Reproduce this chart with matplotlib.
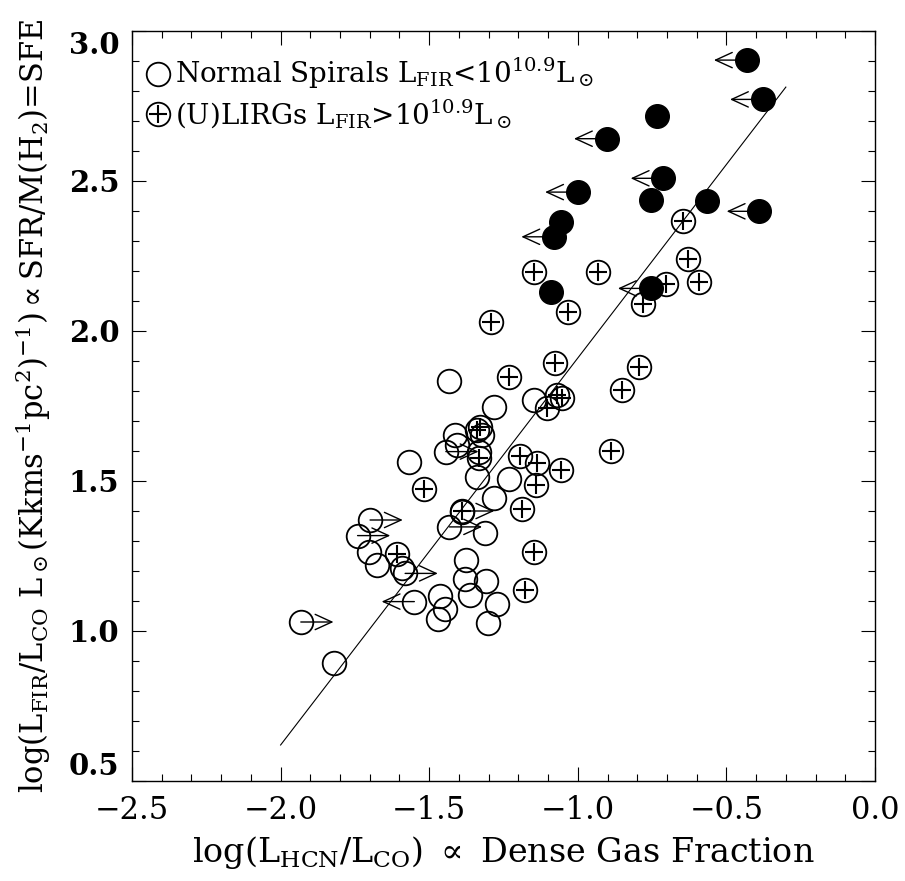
import matplotlib
matplotlib.use("Agg")
import matplotlib.pyplot as plt
from matplotlib.ticker import MultipleLocator

plt.rcParams['font.family'] = 'DejaVu Serif'
plt.rcParams['mathtext.fontset'] = 'dejavuserif'

# normal spirals (open circles); arrow: +1 lower limit (right), -1 upper limit (left)
open_x = [-1.433, -1.282, -1.146, -1.413, -1.444, -1.407, -1.323, -1.332, -1.340,
          -1.568, -1.233, -1.281, -1.432, -1.311, -1.391, -1.699, -1.741, -1.702,
          -1.677, -1.581, -1.591, -1.377, -1.380, -1.309, -1.364, -1.464, -1.447,
          -1.471, -1.273, -1.301, -1.550, -1.932, -1.819]
open_y = [1.832, 1.748, 1.769, 1.653, 1.598, 1.620, 1.653, 1.598, 1.515,
          1.563, 1.508, 1.444, 1.347, 1.326, 1.398, 1.370, 1.318, 1.262,
          1.220, 1.192, 1.210, 1.237, 1.174, 1.167, 1.120, 1.118, 1.072,
          1.039, 1.089, 1.026, 1.098, 1.030, 0.892]
open_arrow = [0, 0, 0, 0, 1, 0, 0, 0, 0,
              0, 0, 0, 1, 0, 0, 1, 1, 0,
              0, 1, 0, 0, 0, 0, 0, 0, 0,
              0, 0, 0, -1, 1, 0]

# (U)LIRGs (circle with plus)
lirg_x = [-1.292, -1.034, -0.780, -1.077, -1.230, -0.794, -0.852, -1.069, -1.052,
          -1.105, -0.888, -1.329, -1.338, -1.332, -1.193, -1.138, -1.058, -1.142,
          -1.517, -1.187, -1.391, -1.147, -1.609, -1.179, -0.647, -1.146, -0.931,
          -0.630, -0.592, -0.703]
lirg_y = [2.031, 2.064, 2.090, 1.892, 1.848, 1.880, 1.805, 1.788, 1.776,
          1.743, 1.600, 1.681, 1.670, 1.576, 1.585, 1.560, 1.537, 1.485,
          1.475, 1.406, 1.400, 1.264, 1.256, 1.137, 2.368, 2.198, 2.198,
          2.239, 2.164, 2.156]
lirg_arrow = [0, 0, 0, 0, 0, 0, 0, 0, 0,
              0, 0, 0, 0, 0, 0, 0, 0, 0,
              0, 0, 1, 0, 0, 0, 0, 0, 0,
              0, 0, 0]

# filled circles
fill_x = [-0.432, -0.378, -0.733, -0.903, -0.712, -1.000, -0.754, -0.566, -0.389,
          -1.057, -1.080, -1.091, -0.755]
fill_y = [2.903, 2.772, 2.718, 2.641, 2.509, 2.463, 2.437, 2.434, 2.399,
          2.362, 2.314, 2.131, 2.142]
fill_arrow = [-1, -1, 0, -1, -1, -1, 0, 0, -1,
              0, -1, 0, -1]

# fit line
fit_x = [-2.0, -0.3]
fit_slope = 1.29
fit_intercept = 3.20

x_ticks = [-2.5, -2.0, -1.5, -1.0, -0.5, 0.0]
x_tick_labels = ['\u22122.5', '\u22122.0', '\u22121.5', '\u22121.0', '\u22120.5', '0.0']
y_ticks = [0.5, 1.0, 1.5, 2.0, 2.5, 3.0]
y_tick_labels = ['0.5', '1.0', '1.5', '2.0', '2.5', '3.0']

arrow_len = 0.11

fig = plt.figure(figsize=(9.05, 8.81), dpi=100)
ax = fig.add_axes([132 / 905, 100 / 881, 743 / 905, 750 / 881])

ax.plot(fit_x, [fit_slope * v + fit_intercept for v in fit_x], color='k', lw=0.8, zorder=1)

arrowprops = dict(arrowstyle='->,head_length=1.2,head_width=0.55', lw=1.0,
                  color='k', shrinkA=0, shrinkB=0)
for xs, ys, arr in [(open_x, open_y, open_arrow), (lirg_x, lirg_y, lirg_arrow),
                    (fill_x, fill_y, fill_arrow)]:
    for x, y, a in zip(xs, ys, arr):
        if a != 0:
            ax.annotate('', xy=(x + a * arrow_len, y), xytext=(x, y),
                        arrowprops=arrowprops, zorder=2)

ms = 17
ax.plot(open_x, open_y, 'o', ms=ms, mfc='none', mec='k', mew=1.3, zorder=3)
ax.plot(lirg_x, lirg_y, 'o', ms=ms, mfc='none', mec='k', mew=1.3, zorder=3)
ax.plot(lirg_x, lirg_y, '+', ms=13, mec='k', mew=1.5, zorder=3)
ax.plot(fill_x, fill_y, 'o', ms=ms, mfc='k', mec='k', mew=1.0, zorder=4)

# legend
ax.plot([0.035], [0.943], 'o', ms=ms, mfc='none', mec='k', mew=1.3, transform=ax.transAxes)
ax.plot([0.035], [0.889], 'o', ms=ms, mfc='none', mec='k', mew=1.3, transform=ax.transAxes)
ax.plot([0.035], [0.889], '+', ms=13, mec='k', mew=1.5, transform=ax.transAxes)
ax.text(0.058, 0.943, r'Normal Spirals L$_{\rm FIR}$<10$^{10.9}$L$_\odot$',
        transform=ax.transAxes, fontsize=20, va='center', ha='left')
ax.text(0.058, 0.889, r'(U)LIRGs L$_{\rm FIR}$>10$^{10.9}$L$_\odot$',
        transform=ax.transAxes, fontsize=20, va='center', ha='left')

ax.set_xlim(-2.5, 0.0)
ax.set_ylim(0.5, 3.0)
ax.set_xticks(x_ticks, x_tick_labels)
ax.set_yticks(y_ticks, y_tick_labels)
ax.xaxis.set_minor_locator(MultipleLocator(0.1))
ax.yaxis.set_minor_locator(MultipleLocator(0.1))
ax.tick_params(which='both', direction='in', top=True, right=True, width=0.8)
ax.tick_params(which='major', length=10)
ax.tick_params(which='minor', length=5)
ax.tick_params(axis='x', labelsize=22, pad=10)
ax.tick_params(axis='y', labelsize=21, pad=9)
for sp in ax.spines.values():
    sp.set_linewidth(1.0)

for lab in ax.get_yticklabels():
    lab.set_fontweight('bold')
    if lab.get_text() == '3.0':
        lab.set_va('top')
    elif lab.get_text() == '0.5':
        lab.set_va('bottom')

ax.set_xlabel(r'log(L$_{\rm HCN}$/L$_{\rm CO}$) $\propto$ Dense Gas Fraction',
              fontsize=24, labelpad=6)
ax.set_ylabel(r'log(L$_{\rm FIR}$/L$_{\rm CO}$ L$_\odot$(Kkms$^{-1}$pc$^2$)$^{-1}$)$\propto$SFR/M(H$_2$)=SFE',
              fontsize=22)
ax.yaxis.set_label_coords(-0.106, 0.5)

fig.savefig('out.png', dpi=100)
